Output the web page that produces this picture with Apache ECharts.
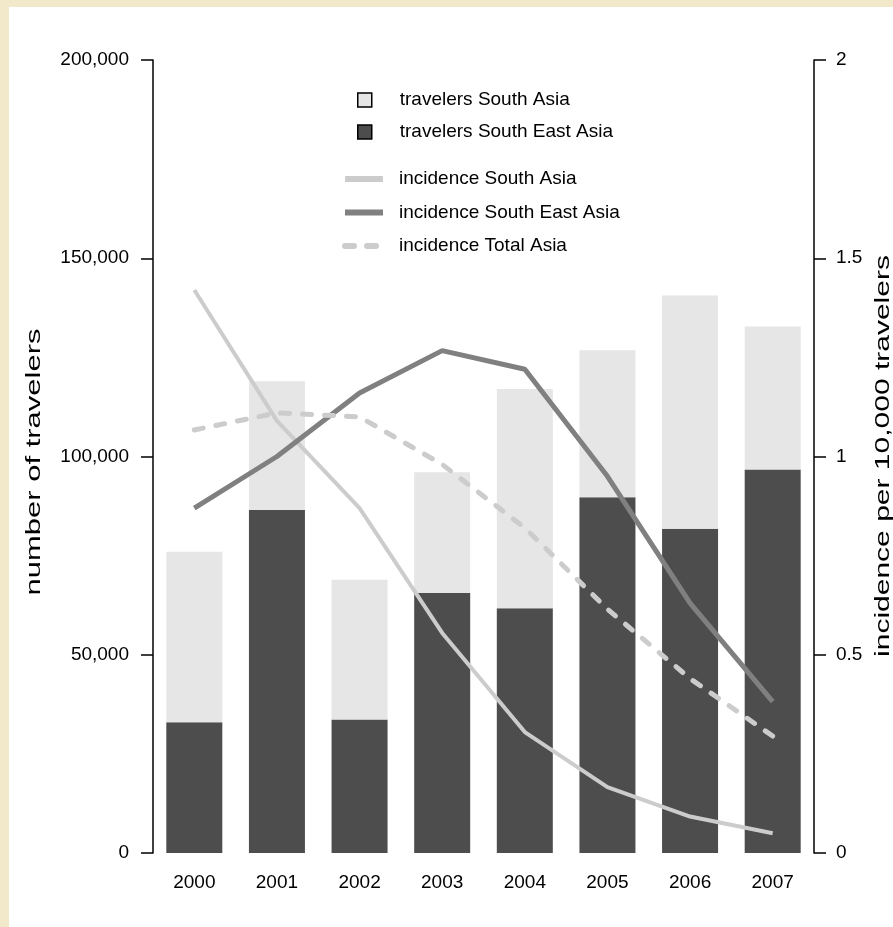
<!DOCTYPE html>
<html>
<head>
<meta charset="utf-8">
<script src="https://cdn.jsdelivr.net/npm/echarts@6.0.0/dist/echarts.min.js"></script>
<style>
  html, body { margin: 0; padding: 0; background: #f1e9c9; }
  #chart { position: absolute; left: 9px; top: 7px; width: 884px; height: 920px; background: #fff; }
</style>
</head>
<body>
<div id="chart"></div>
<script>
// data
const years = ['2000', '2001', '2002', '2003', '2004', '2005', '2006', '2007']
const travelersSouthEastAsia = [33000, 86500, 33700, 65600, 61700, 89700, 81800, 96700]
const travelersSouthAsia = [43000, 32500, 35200, 30400, 55300, 37100, 58800, 36100]
const incidenceSouthAsia = [1.42, 1.09, 0.87, 0.555, 0.305, 0.166, 0.092, 0.05]
const incidenceSouthEastAsia = [0.87, 1.0, 1.16, 1.267, 1.22, 0.95, 0.63, 0.382]
const incidenceTotalAsia = [1.067, 1.11, 1.1, 0.98, 0.82, 0.615, 0.44, 0.295]
const leftTicks = [0, 50000, 100000, 150000, 200000]
const rightTicks = [0, 0.5, 1, 1.5, 2]

const font = '"Liberation Sans", Arial, sans-serif'

const axisLine = { show: true, lineStyle: { color: '#000', width: 1.5 } }
const axisTick = { show: true, length: 12, lineStyle: { color: '#000', width: 1.5 } }

const chart = echarts.init(document.getElementById('chart'))

const option = {
  animation: false,
  grid: { left: 144, right: 79, top: 53, bottom: 74 },
  legend: [
    {
      orient: 'vertical',
      left: 343,
      top: 76,
      itemWidth: 14,
      itemHeight: 14,
      itemGap: 8,
      icon: 'rect',
      itemStyle: { borderColor: '#000', borderWidth: 1.5 },
      textStyle: { fontFamily: font, fontSize: 19, color: '#000', lineHeight: 24, padding: [0, 0, 0, 23] },
      data: ['travelers South Asia', 'travelers South East Asia']
    },
    {
      orient: 'vertical',
      left: 328,
      top: 155,
      itemWidth: 38,
      itemHeight: 14,
      itemGap: 9.5,
      itemStyle: { color: 'rgba(0,0,0,0)', borderWidth: 0, opacity: 0 },
      lineStyle: { width: 6 },
      textStyle: { fontFamily: font, fontSize: 19, color: '#000', lineHeight: 24, padding: [0, 0, 0, 11] },
      data: ['incidence South Asia', 'incidence South East Asia', 'incidence Total Asia']
    }
  ],
  xAxis: {
    type: 'category',
    data: years,
    boundaryGap: true,
    axisLine: { show: false },
    axisTick: { show: false },
    axisLabel: { fontFamily: font, fontSize: 19, color: '#000', margin: 20 }
  },
  yAxis: [
    {
      type: 'value',
      min: leftTicks[0],
      max: leftTicks[leftTicks.length - 1],
      interval: leftTicks[1] - leftTicks[0],
      axisLine: axisLine,
      axisTick: axisTick,
      splitLine: { show: false },
      axisLabel: {
        fontFamily: font, fontSize: 19, color: '#000', margin: 24,
        formatter: v => v.toLocaleString('en-US')
      }
    },
    {
      type: 'value',
      position: 'right',
      min: rightTicks[0],
      max: rightTicks[rightTicks.length - 1],
      interval: rightTicks[1] - rightTicks[0],
      axisLine: axisLine,
      axisTick: axisTick,
      splitLine: { show: false },
      axisLabel: { fontFamily: font, fontSize: 19, color: '#000', margin: 22 }
    }
  ],
  graphic: [
    {
      type: 'text', x: 25, y: 455, rotation: Math.PI / 2, scaleX: 1.55,
      style: { text: 'number of travelers', fontFamily: font, fontSize: 20, fill: '#000', align: 'center', verticalAlign: 'middle' }
    },
    {
      type: 'text', x: 874, y: 449, rotation: Math.PI / 2, scaleX: 1.5,
      style: { text: 'incidence per 10,000 travelers', fontFamily: font, fontSize: 20, fill: '#000', align: 'center', verticalAlign: 'middle' }
    }
  ],
  series: [
    {
      name: 'travelers South East Asia',
      type: 'bar',
      stack: 'travelers',
      barWidth: 56,
      itemStyle: { color: '#4d4d4d' },
      data: travelersSouthEastAsia
    },
    {
      name: 'travelers South Asia',
      type: 'bar',
      stack: 'travelers',
      barWidth: 56,
      itemStyle: { color: '#e6e6e6' },
      data: travelersSouthAsia
    },
    {
      name: 'incidence South Asia',
      type: 'line',
      yAxisIndex: 1,
      symbol: 'none',
      z: 5,
      lineStyle: { color: '#cccccc', width: 4 },
      itemStyle: { color: '#cccccc' },
      data: incidenceSouthAsia
    },
    {
      name: 'incidence South East Asia',
      type: 'line',
      yAxisIndex: 1,
      symbol: 'none',
      z: 5,
      lineStyle: { color: '#808080', width: 5 },
      itemStyle: { color: '#808080' },
      data: incidenceSouthEastAsia
    },
    {
      name: 'incidence Total Asia',
      type: 'line',
      yAxisIndex: 1,
      symbol: 'none',
      z: 5,
      lineStyle: { color: '#cccccc', width: 5, type: [9, 13], cap: 'round' },
      itemStyle: { color: '#cccccc' },
      data: incidenceTotalAsia
    }
  ]
}

chart.setOption(option)
</script>
</body>
</html>
